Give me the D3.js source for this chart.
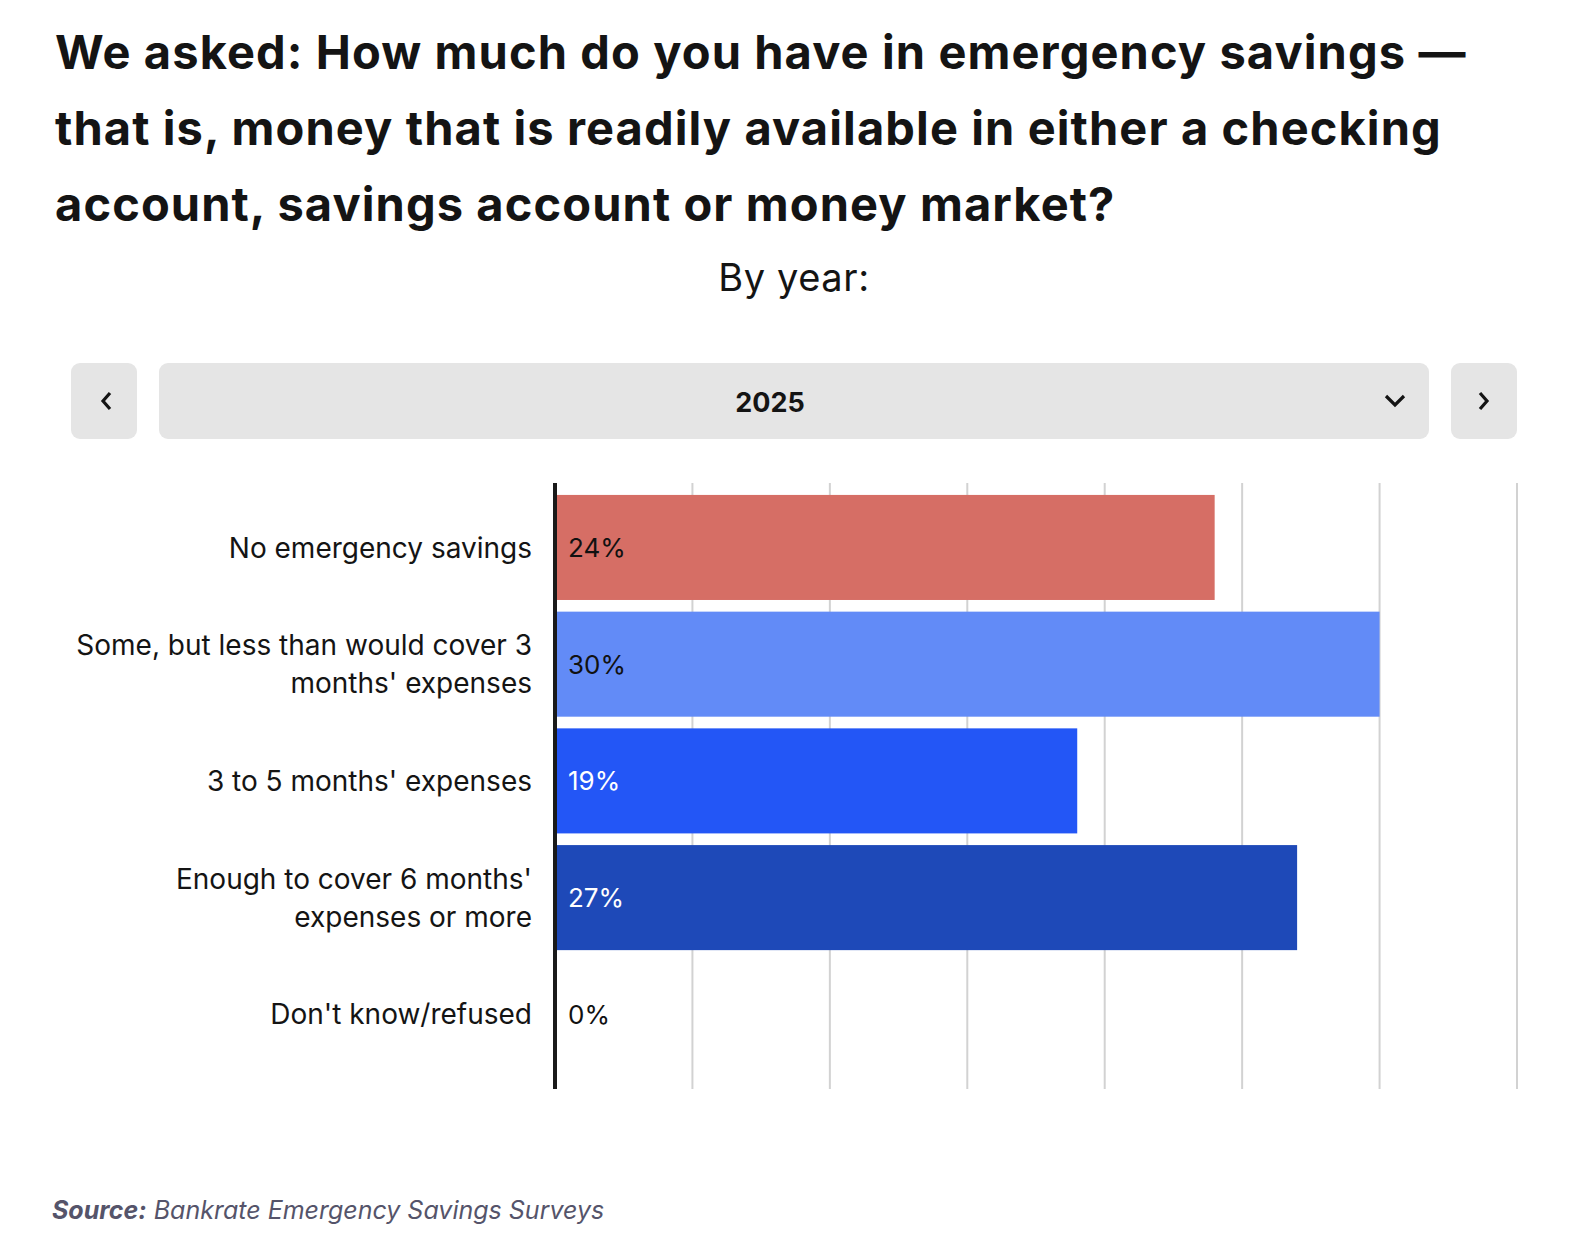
<!DOCTYPE html>
<html>
<head>
<meta charset="utf-8">
<script src="https://cdn.jsdelivr.net/npm/d3@7"></script>
<style>
  body { margin: 0; background: #fff; }
  svg { display: block; font-family: "Inter", "Open Sans", sans-serif; }
</style>
</head>
<body>
<script>
// chart values
var categories = [
    "No emergency savings",
    "Some, but less than would cover 3 months' expenses",
    "3 to 5 months' expenses",
    "Enough to cover 6 months' expenses or more",
    "Don't know/refused"
];
var values = [24, 30, 19, 27, 0];
var barColors = ["#d66e65", "#628bf7", "#2356f6", "#1e49b8", "#1e49b8"];
var labelColors = ["#111", "#111", "#fff", "#fff", "#111"];
var gridTicks = [0, 5, 10, 15, 20, 25, 30, 35];
var titleLines = [
    "We asked: How much do you have in emergency savings \u2014",
    "that is, money that is readily available in either a checking",
    "account, savings account or money market?"
];
var subtitle = "By year:";
var yearShown = "2025";

var W = 1584, H = 1254;
var svg = d3.select("body").append("svg")
    .attr("width", W)
    .attr("height", H);

// title
svg.append("g").selectAll("text")
    .data(titleLines)
    .enter()
    .append("text")
    .attr("x", 55)
    .attr("y", function(d, i) { return 69 + i * 76; })
    .attr("font-size", "47px")
    .attr("font-weight", "bold")
    .attr("letter-spacing", "1.1px")
    .attr("fill", "#141414")
    .text(function(d) { return d; });

svg.append("text")
    .attr("x", 794)
    .attr("y", 291)
    .attr("text-anchor", "middle")
    .attr("font-size", "38px")
    .attr("letter-spacing", "0.6px")
    .attr("fill", "#141414")
    .text(subtitle);

// year selector (prev / dropdown / next)
var sel = svg.append("g");
sel.append("rect").attr("x", 71).attr("y", 363).attr("width", 66).attr("height", 76)
    .attr("rx", 9).attr("fill", "#e5e5e5");
sel.append("rect").attr("x", 159).attr("y", 363).attr("width", 1270).attr("height", 76)
    .attr("rx", 9).attr("fill", "#e5e5e5");
sel.append("rect").attr("x", 1451).attr("y", 363).attr("width", 66).attr("height", 76)
    .attr("rx", 9).attr("fill", "#e5e5e5");
sel.append("path").attr("d", "M110,393 L103,401 L110,409")
    .attr("fill", "none").attr("stroke", "#141414").attr("stroke-width", 3.2);
sel.append("path").attr("d", "M1480,393 L1487,401 L1480,409")
    .attr("fill", "none").attr("stroke", "#141414").attr("stroke-width", 3.2);
sel.append("path").attr("d", "M1386,396 L1395,405 L1404,396")
    .attr("fill", "none").attr("stroke", "#141414").attr("stroke-width", 3.2);
sel.append("text")
    .attr("x", 770)
    .attr("y", 412)
    .attr("text-anchor", "middle")
    .attr("font-size", "27px")
    .attr("font-weight", "bold")
    .attr("fill", "#141414")
    .text(yearShown);

// scales
var x = d3.scaleLinear().domain([0, 35]).range([555, 1517]);
var y = d3.scaleBand().domain(categories)
    .range([483, 1089])
    .paddingInner(0.1)
    .paddingOuter(0.146)
    .align(0.35);

var plotTop = 483, plotBottom = 1089;

// gridlines
svg.append("g").selectAll("line")
    .data(gridTicks.slice(1))
    .enter()
    .append("line")
    .attr("x1", function(d) { return x(d); })
    .attr("x2", function(d) { return x(d); })
    .attr("y1", plotTop)
    .attr("y2", plotBottom)
    .attr("stroke", "#d2d2d2")
    .attr("stroke-width", 2);

// bars
svg.append("g").selectAll("rect")
    .data(values)
    .enter()
    .append("rect")
    .attr("x", x(0))
    .attr("y", function(d, i) { return y(categories[i]); })
    .attr("width", function(d) { return x(d) - x(0); })
    .attr("height", y.bandwidth())
    .attr("fill", function(d, i) { return barColors[i]; });

// value labels inside bars
svg.append("g").selectAll("text")
    .data(values)
    .enter()
    .append("text")
    .attr("x", x(0) + 13)
    .attr("y", function(d, i) { return y(categories[i]) + y.bandwidth() / 2; })
    .attr("dy", "0.36em")
    .attr("font-size", "26px")
    .attr("fill", function(d, i) { return labelColors[i]; })
    .text(function(d) { return d + "%"; });

// baseline axis
svg.append("line")
    .attr("x1", x(0)).attr("x2", x(0))
    .attr("y1", plotTop).attr("y2", plotBottom)
    .attr("stroke", "#1a1a1a")
    .attr("stroke-width", 4);

// category labels, wrapped to fit left of axis
var yAxis = d3.axisLeft(y).tickSize(0).tickPadding(0);
var axisG = svg.append("g")
    .attr("transform", "translate(532,0)")
    .call(yAxis);
axisG.select(".domain").remove();
axisG.selectAll("text")
    .attr("font-size", "28px")
    .attr("font-family", "Inter, 'Open Sans', sans-serif")
    .attr("fill", "#141414")
    .call(wrap, 472);

function wrap(texts, maxWidth) {
    texts.each(function() {
        var t = d3.select(this);
        var words = t.text().split(" ");
        var lines = [], line = [];
        t.text(null);
        var probe = t.append("tspan");
        words.forEach(function(w) {
            line.push(w);
            probe.text(line.join(" "));
            if (probe.node().getComputedTextLength() > maxWidth && line.length > 1) {
                line.pop();
                lines.push(line.join(" "));
                line = [w];
            }
        });
        lines.push(line.join(" "));
        probe.remove();
        var lh = 38;
        var start = -(lines.length - 1) * lh / 2;
        lines.forEach(function(l, i) {
            t.append("tspan")
                .attr("x", 0)
                .attr("y", start + i * lh)
                .attr("dy", "0.36em")
                .text(l);
        });
    });
}

// source note
var src = svg.append("text")
    .attr("x", 52)
    .attr("y", 1219)
    .attr("font-size", "25px")
    .attr("font-style", "italic")
    .attr("fill", "#55546a");
src.append("tspan").attr("font-weight", "bold").text("Source:");
src.append("tspan").text(" Bankrate Emergency Savings Surveys");
</script>
</body>
</html>
